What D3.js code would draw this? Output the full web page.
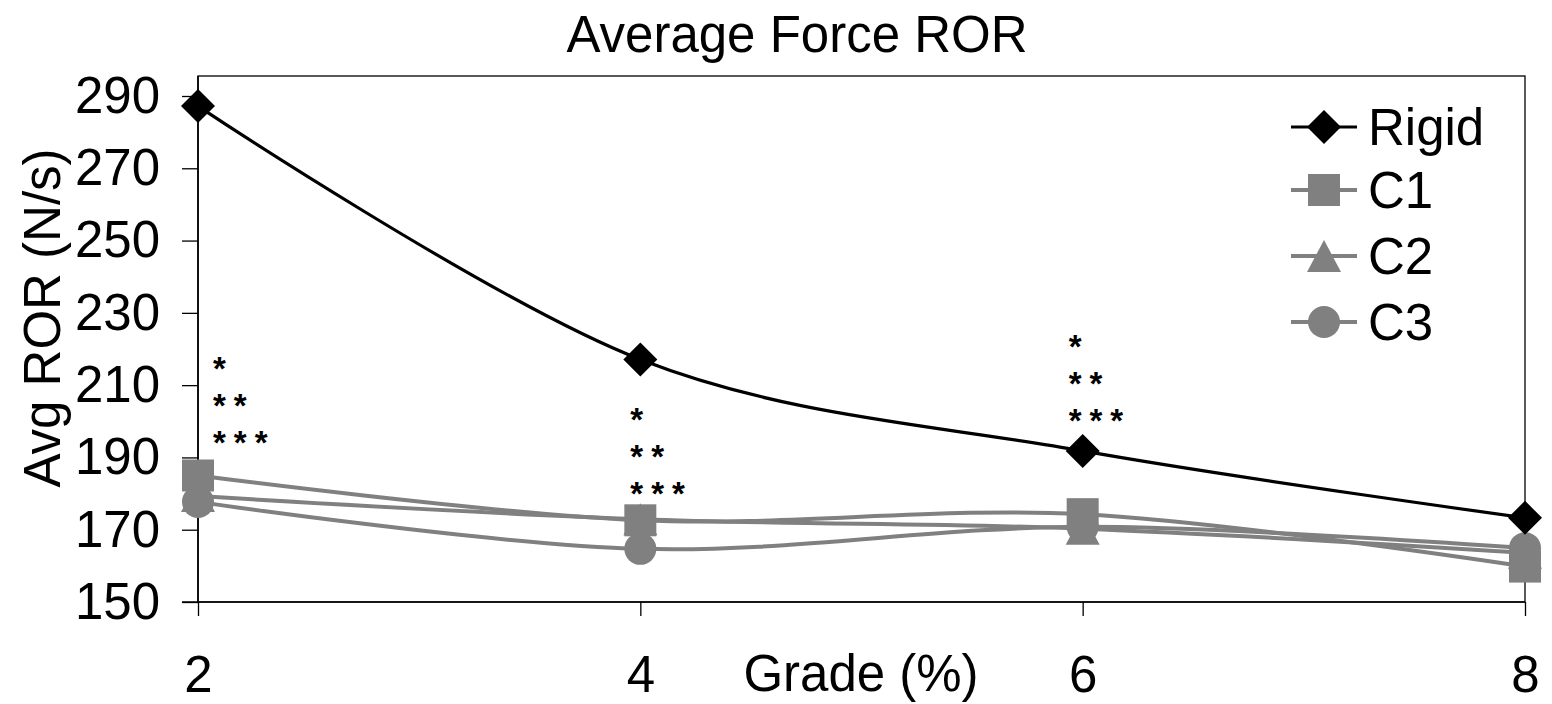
<!DOCTYPE html>
<html>
<head>
<meta charset="utf-8">
<script src="https://cdn.jsdelivr.net/npm/d3@7"></script>
<style>
  html, body { margin: 0; padding: 0; background: #fff; }
  svg { display: block; }
  text { font-family: Arial, "Liberation Sans", sans-serif; fill: #000; }
</style>
</head>
<body>
<svg id="chart" width="1552" height="704"></svg>
<script>
// ---- data ----
const grades = [2, 4, 6, 8];
const yTicks = [150, 170, 190, 210, 230, 250, 270, 290];
const seriesNames = ["Rigid", "C1", "C2", "C3"];
const rigid = [287.2, 217.1, 191.8, 173.3];
const c1 = [185.0, 172.6, 174.3, 159.8];
const c2 = [179.3, 172.9, 170.3, 163.6];
const c3 = [177.7, 164.7, 170.8, 164.9];
const sigGrades = [2, 4, 6];
const sigTopValues = [217, 202.9, 223];
const sigLabels = ["*", "**", "***"];
const titleText = "Average Force ROR";
const xTitle = "Grade (%)";
const yTitle = "Avg ROR (N/s)";

// ---- layout ----
const svg = d3.select("#chart");
const x = d3.scaleLinear().domain([2, 8]).range([198, 1525]);
const y = d3.scaleLinear().domain([150, 290]).range([602, 96]);
const plotTop = 76;
const gray = "#808080";
const fontSize = 51;
const FONT = "Arial, 'Liberation Sans', sans-serif";

const seriesData = [
  { name: "Rigid", values: rigid, color: "#000", marker: "diamond", width: 3.2 },
  { name: "C1", values: c1, color: gray, marker: "square", width: 4 },
  { name: "C2", values: c2, color: gray, marker: "triangle", width: 4 },
  { name: "C3", values: c3, color: gray, marker: "circle", width: 4 }
];

// plot frame
svg.append("rect")
  .attr("x", x(2)).attr("y", plotTop)
  .attr("width", x(8) - x(2)).attr("height", y(150) - plotTop)
  .attr("fill", "none").attr("stroke", "#000").attr("stroke-width", 1.3);

// y axis
const yAxis = d3.axisLeft(y).tickValues(yTicks).tickSize(16).tickPadding(22).tickFormat(d3.format("d"));
const gy = svg.append("g").attr("transform", `translate(${x(2)},0)`).call(yAxis);
gy.select(".domain").attr("stroke", "#000").attr("stroke-width", 1.6).attr("d", `M0,${plotTop}V${y(150)}`);
gy.selectAll(".tick line").attr("stroke", "#000").attr("stroke-width", 1.3);
gy.selectAll(".tick text").attr("font-size", fontSize).attr("font-family", FONT).attr("fill", "#000");

// x axis
const xAxis = d3.axisBottom(x).tickValues(grades).tickSize(14).tickPadding(40).tickFormat(d3.format("d"));
const gx = svg.append("g").attr("transform", `translate(0,${y(150)})`).call(xAxis);
gx.select(".domain").attr("stroke", "#000").attr("stroke-width", 1.6).attr("d", `M${x(2) - 16},0H${x(8)}`);
gx.selectAll(".tick line").attr("stroke", "#000").attr("stroke-width", 1.3);
gx.selectAll(".tick text").attr("font-size", fontSize).attr("font-family", FONT).attr("fill", "#000");

// titles
svg.append("text").attr("x", 797).attr("y", 52).attr("text-anchor", "middle")
  .attr("font-size", fontSize).text(titleText);
svg.append("text").attr("x", 861).attr("y", 691).attr("text-anchor", "middle")
  .attr("font-size", fontSize).text(xTitle);
svg.append("text").attr("transform", "translate(60,318) rotate(-90)").attr("text-anchor", "middle")
  .attr("font-size", fontSize).text(yTitle);

// markers
function drawMarker(g, type, cx, cy, color) {
  if (type === "diamond") {
    const r = 17;
    g.append("path").attr("d", `M${cx},${cy - r}L${cx + r},${cy}L${cx},${cy + r}L${cx - r},${cy}Z`).attr("fill", color);
  } else if (type === "square") {
    const s = 32;
    g.append("rect").attr("x", cx - s / 2).attr("y", cy - s / 2).attr("width", s).attr("height", s).attr("fill", color);
  } else if (type === "triangle") {
    const w = 34, h = 32;
    g.append("path").attr("d", `M${cx},${cy - h / 2}L${cx + w / 2},${cy + h / 2}L${cx - w / 2},${cy + h / 2}Z`).attr("fill", color);
  } else {
    g.append("circle").attr("cx", cx).attr("cy", cy).attr("r", 16).attr("fill", color);
  }
}

// series (draw C3 first, Rigid last)
const line = d3.line().x((d, i) => x(grades[i])).y(d => y(d)).curve(d3.curveCardinal.tension(0));
seriesData.slice().reverse().forEach(s => {
  const g = svg.append("g");
  g.append("path").attr("d", line(s.values)).attr("fill", "none")
    .attr("stroke", s.color).attr("stroke-width", s.width).attr("stroke-linejoin", "round");
  s.values.forEach((v, i) => drawMarker(g, s.marker, x(grades[i]), y(v), s.color));
});

// significance asterisks
const sigOffsets = [15, -10, -14];
sigGrades.forEach((gr, k) => {
  const top = y(sigTopValues[k]);
  sigLabels.forEach((lab, j) => {
    svg.append("text").attr("x", x(gr) + sigOffsets[k]).attr("y", top + j * 37 + 20)
      .attr("font-size", 33).attr("font-weight", "bold").attr("letter-spacing", 8).text(lab);
  });
});

// legend
const legendRows = [127, 190, 256, 322];
seriesData.forEach((s, i) => {
  const g = svg.append("g");
  const cy = legendRows[i];
  g.append("line").attr("x1", 1291).attr("x2", 1357).attr("y1", cy).attr("y2", cy)
    .attr("stroke", s.color).attr("stroke-width", s.width);
  drawMarker(g, s.marker, 1324, cy, s.color);
  g.append("text").attr("x", 1368).attr("y", cy).attr("dy", "0.36em")
    .attr("font-size", fontSize).text(seriesNames[i]);
});
</script>
</body>
</html>
